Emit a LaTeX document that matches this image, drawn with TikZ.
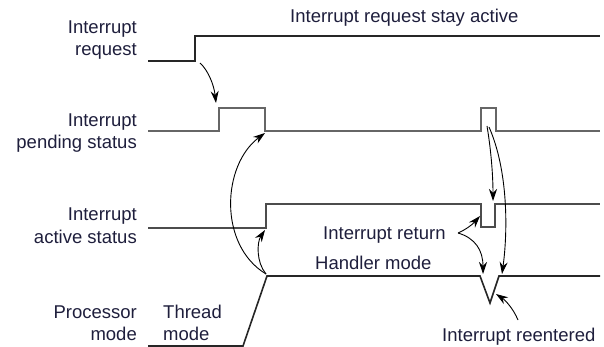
\documentclass[tikz,border=0pt]{standalone}
\usepackage{fontspec}
\setmainfont{Liberation Sans}
\usetikzlibrary{arrows.meta, positioning}
\definecolor{labelink}{HTML}{1E1E3C}
\tikzset{
  siglabel/.style={align=right, anchor=base east, inner sep=0pt, text=labelink,
                   font=\fontsize{18.5}{22}\selectfont},
  note/.style={align=left, anchor=base west, inner sep=0pt, text=labelink,
               font=\fontsize{18.5}{22}\selectfont},
  wave/.style={line width=1.6pt, line join=miter},
  cause/.style={line width=0.9pt, -{Stealth[length=12pt, width=8pt]}},
}

\begin{document}
\begin{tikzpicture}[x=1pt, y=-1pt]
    \useasboundingbox (0,0) rectangle (604,347);
    % Signal names
    \node[siglabel] (reqlbl)  at (137,56)  {Interrupt\\request};
    \node[siglabel] (pendlbl) at (137,149) {Interrupt\\pending status};
    \node[siglabel] (actlbl)  at (137,243) {Interrupt\\active status};
    \node[siglabel] (modelbl) at (137,340) {Processor\\mode};
    \node[note] (threadlbl) at (163,340) {Thread\\mode};
    % Notes
    \node[note] (staylbl)  at (290,23)  {Interrupt request stay active};
    \node[note] (retlbl)   at (323,239) {Interrupt return};
    \node[note] (handlbl)  at (315,269) {Handler mode};
    \node[note] (reentlbl) at (442,341) {Interrupt reentered};
    % Waveforms
    \coordinate (r0) at (148,61);  \coordinate (r1) at (195,61);
    \coordinate (r2) at (195,36);  \coordinate (r3) at (600,36);
    \draw[wave, black!85] (r0) -- (r1) -- (r2) -- (r3);
    \coordinate (p0) at (148,131); \coordinate (p1) at (219,131);
    \coordinate (p2) at (219,108); \coordinate (p3) at (265,108);
    \coordinate (p4) at (265,131); \coordinate (p5) at (481,131);
    \coordinate (p6) at (481,108); \coordinate (p7) at (496,108);
    \coordinate (p8) at (496,131); \coordinate (p9) at (600,131);
    \draw[wave, black!60] (p0) -- (p1) -- (p2) -- (p3) -- (p4) -- (p5)
        -- (p6) -- (p7) -- (p8) -- (p9);
    \coordinate (a0) at (148,228); \coordinate (a1) at (266,228);
    \coordinate (a2) at (266,204); \coordinate (a3) at (481,204);
    \coordinate (a4) at (481,227); \coordinate (a5) at (495,227);
    \coordinate (a6) at (495,204); \coordinate (a7) at (600,204);
    \draw[wave, black!70] (a0) -- (a1) -- (a2) -- (a3) -- (a4) -- (a5)
        -- (a6) -- (a7);
    \coordinate (m0) at (148,346); \coordinate (m1) at (243,346);
    \coordinate (m2) at (267,276); \coordinate (m3) at (480,276);
    \coordinate (m4) at (490,303); \coordinate (m5) at (499,276);
    \coordinate (m6) at (600,276);
    \draw[wave, black!85] (m0) -- (m1) -- (m2) -- (m3) -- (m4) -- (m5) -- (m6);
    % Causes
    \coordinate (retfork) at (458,233);
    \draw[cause] ([shift={(5,2)}]r1) .. controls (208,70) and (214,85) .. ([shift={(-3,-5)}]p2);
    \draw[cause] ([shift={(-1,-2)}]m2) .. controls (218,245) and (222,165) .. ([shift={(0,2)}]p4);
    \draw[cause] ([shift={(-1,-2)}]m2) .. controls (256,262) and (257,242) .. ([shift={(-1,2)}]a1);
    \draw[cause] (487,126) .. controls (491,150) and (493,175) .. ([shift={(-2,-3)}]a6);
    \draw[cause] (489,127) .. controls (508,170) and (508,230) .. ([shift={(3,-2)}]m5);
    \draw[cause] (retfork) .. controls (465,230) and (472,225) .. ([shift={(-1,-11)}]a4);
    \draw[cause] (retfork) .. controls (475,238) and (483,250) .. ([shift={(3,-2)}]m3);
    \draw[cause] ([shift={(76,-21)}]reentlbl.base west) .. controls (513,308) and (505,300) .. ([shift={(6,-9)}]m4);
\end{tikzpicture}
\end{document}
